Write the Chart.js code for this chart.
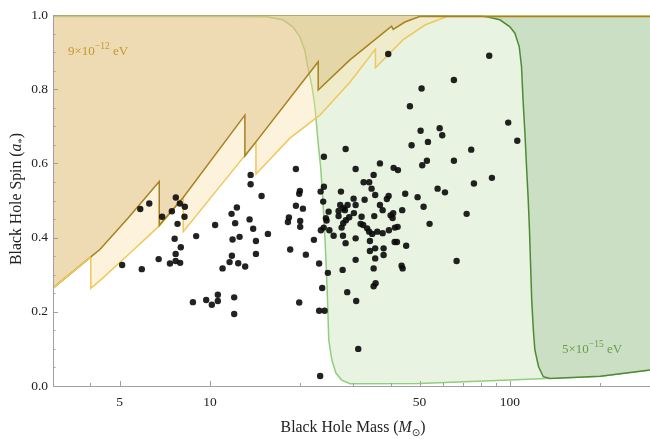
<!DOCTYPE html>
<html><head><meta charset="utf-8">
<script src="https://cdn.jsdelivr.net/npm/chart.js@4.4.0/dist/chart.umd.min.js"></script>
<style>html,body{margin:0;padding:0;background:#fff;}#wrap{width:650px;height:439px;}</style>
</head><body><div id="wrap"><canvas id="c" width="650" height="439"></canvas></div>
<script>
// ---- axis ticks ----
const massTicks = [4, 5, 10, 20, 30, 40, 50, 60, 70, 80, 90, 100, 200];
const massLabels = [5, 10, 50, 100];
const spinLabels = [0, 0.2, 0.4, 0.6, 0.8, 1.0];

// ---- black hole measurements ----
const bhMass = [5.10,5.93,5.86,6.28,6.93,7.70,7.47,7.94,8.25,8.23,7.80,7.63,8.00,7.69,6.75,7.36,7.69,7.96,9.00,10.41,
12.30,11.81,12.14,12.56,11.90,11.84,11.63,12.43,11.02,8.78,9.72,10.15,10.63,10.63,12.05,12.05,19.35,13.67,13.67,14.87,
19.95,19.85,23.39,23.99,23.99,23.86,24.87,24.36,24.49,25.02,23.44,23.95,19.35,20.42,18.34,18.20,20.0,20.0,13.56,13.94,
15.61,14.24,14.24,13.11,18.52,20.89,22.22,23.13,24.73,23.68,19.85,23.13,24.12,28.69,30.74,31.22,23.31,28.34,47.02,36.88,
30.60,40.96,42.34,35.14,32.54,33.96,27.34,34.59,35.56,44.77,49.23,39.42,38.90,30.13,32.79,27.19,28.77,30.60,36.88,27.91,
28.18,26.85,30.20,37.65,43.75,40.83,40.02,26.85,29.13,32.04,35.30,40.64,28.40,27.83,27.48,31.79,32.43,33.44,33.96,34.75,
36.12,37.65,39.51,41.37,42.24,25.85,27.77,28.34,30.60,34.15,41.28,42.01,45.11,35.56,37.93,34.15,37.93,35.56,30.60,43.55,
43.89,35.14,27.70,35.67,35.14,71.73,51.55,53.98,66.42,85.31,65.06,50.77,46.42,98.7,50.39,58.32,59.49,53.30,105.8,74.30,
52.89,51.02,65.06,87.10,75.86,57.41,60.74,39.30];
const bhSpin = [0.326,0.315,0.477,0.492,0.456,0.508,0.471,0.492,0.483,0.456,0.437,0.397,0.374,0.356,0.342,0.330,0.337,0.332,0.404,0.434,
0.481,0.464,0.439,0.402,0.395,0.351,0.334,0.331,0.317,0.226,0.232,0.219,0.246,0.229,0.239,0.194,0.585,0.569,0.544,0.512,
0.526,0.518,0.524,0.618,0.537,0.497,0.470,0.452,0.446,0.420,0.420,0.427,0.486,0.478,0.454,0.442,0.445,0.429,0.449,0.424,
0.410,0.391,0.356,0.322,0.368,0.354,0.394,0.330,0.305,0.264,0.225,0.203,0.203,0.253,0.229,0.100,0.027,0.639,0.649,0.600,
0.585,0.588,0.582,0.569,0.549,0.549,0.524,0.532,0.515,0.518,0.509,0.512,0.504,0.505,0.502,0.488,0.488,0.488,0.488,0.479,
0.474,0.472,0.466,0.474,0.474,0.466,0.460,0.458,0.455,0.456,0.458,0.453,0.447,0.439,0.427,0.437,0.434,0.425,0.416,0.410,
0.416,0.412,0.420,0.427,0.429,0.405,0.405,0.385,0.398,0.391,0.388,0.388,0.378,0.371,0.371,0.364,0.353,0.344,0.340,0.324,
0.317,0.317,0.313,0.277,0.269,0.464,0.483,0.437,0.337,0.890,0.825,0.802,0.754,0.710,0.688,0.695,0.676,0.658,0.661,0.637,
0.607,0.595,0.607,0.561,0.546,0.532,0.522,0.895];

// ---- exclusion boundaries, 9e-12 eV (two criteria) ----
const goldLightMass = [3.0,4.01,4.01,4.30,5.41,6.81,8.15,8.15,10.80,14.24,14.24,18.48,23.26,29.29,35.63,35.63,43.99,52.09,61.66,293];
const goldLightSpin = [0.264,0.348,0.263,0.284,0.358,0.433,0.508,0.416,0.538,0.658,0.571,0.668,0.730,0.819,0.908,0.858,0.933,0.973,0.996,0.996];
const goldDarkMass = [3.0,4.01,4.30,5.34,6.78,6.78,8.15,13.08,13.08,14.24,22.96,22.96,29.29,40.34,40.83,44.67,50.0,293];
const goldDarkSpin = [0.264,0.348,0.368,0.453,0.551,0.433,0.508,0.730,0.620,0.658,0.874,0.798,0.879,0.970,0.961,0.981,0.996,0.996];

// ---- exclusion boundaries, 5e-15 eV (two criteria) ----
const greenLightMass = [3.0,11.7,15.5,17.5,18.9,19.95,20.7,21.2,21.9,22.4,22.9,23.4,23.8,24.2,24.6,24.9,25.5,26.3,27.5,29.3,50,100,200,293];
const greenLightSpin = [0.996,0.996,0.995,0.987,0.968,0.941,0.906,0.860,0.806,0.752,0.663,0.590,0.501,0.394,0.259,0.124,0.070,0.035,0.016,0.006,0.007,0.016,0.026,0.043];
const greenDarkMass = [3.0,78,83.6,92.6,100,103.9,107.4,109.3,110.6,112.2,113.6,115.1,116.2,118.2,119.7,121.1,124.6,129.2,136,200,293];
const greenDarkSpin = [0.999,0.999,0.995,0.987,0.968,0.951,0.915,0.861,0.771,0.682,0.591,0.501,0.420,0.232,0.151,0.097,0.052,0.025,0.020,0.026,0.043];

const pts = (xs, ys) => xs.map((x, i) => ({x: x, y: ys[i]}));
const serif = '"Liberation Serif","DejaVu Serif",serif';
const goldLightColor = '#F0C75C', goldDarkColor = '#A8821E';

function drawRich(ctx, parts, x, y) {
  let cx = x;
  for (const p of parts) {
    ctx.font = p.font; ctx.fillStyle = p.color;
    ctx.fillText(p.t, cx, y + (p.dy || 0));
    cx += ctx.measureText(p.t).width;
  }
}
function richWidth(ctx, parts) {
  let w = 0;
  for (const p of parts) { ctx.font = p.font; w += ctx.measureText(p.t).width; }
  return w;
}

const decor = {
  id: 'decor',
  afterDatasetsDraw(chart) {
    const ctx = chart.ctx, a = chart.chartArea, xs = chart.scales.x, ys = chart.scales.y;
    ctx.save();
    ctx.strokeStyle = '#a0a0a0'; ctx.lineWidth = 1;
    ctx.beginPath();
    ctx.moveTo(a.left + 0.5, a.top); ctx.lineTo(a.left + 0.5, a.bottom + 0.5); ctx.lineTo(a.right, a.bottom + 0.5);
    ctx.stroke();
    ctx.beginPath();
    for (const v of massTicks) {
      const px = Math.round(xs.getPixelForValue(v)) + 0.5;
      const len = massLabels.includes(v) ? 5 : 3;
      ctx.moveTo(px, a.bottom); ctx.lineTo(px, a.bottom - len);
    }
    for (let i = 0; i <= 20; i++) {
      const py = Math.round(ys.getPixelForValue(i * 0.05)) + 0.5;
      const len = i % 4 === 0 ? 5 : 2.5;
      ctx.moveTo(a.left, py); ctx.lineTo(a.left + len, py);
    }
    ctx.stroke();
    // region labels
    ctx.textBaseline = 'alphabetic'; ctx.textAlign = 'left';
    const gold = '#C4982E', green = '#66A04A';
    drawRich(ctx, [
      {t: '9\u00d710', font: '13px ' + serif, color: gold},
      {t: '\u221212', font: '9.5px ' + serif, color: gold, dy: -6},
      {t: ' eV', font: '13px ' + serif, color: gold}], a.left + 15, 55);
    drawRich(ctx, [
      {t: '5\u00d710', font: '13px ' + serif, color: green},
      {t: '\u221215', font: '9.5px ' + serif, color: green, dy: -6},
      {t: ' eV', font: '13px ' + serif, color: green}], 562, 353);
    // axis titles
    const tc = '#222';
    const xt = [
      {t: 'Black Hole Mass (', font: '15.8px ' + serif, color: tc},
      {t: 'M', font: 'italic 15.8px ' + serif, color: tc},
      {t: '\u2299', font: '10px "DejaVu Sans",sans-serif', color: tc, dy: 4},
      {t: ')', font: '15.8px ' + serif, color: tc}];
    const xw = richWidth(ctx, xt);
    drawRich(ctx, xt, 353 - xw / 2, 432);
    const yt = [
      {t: 'Black Hole Spin (', font: '15.8px ' + serif, color: tc},
      {t: 'a', font: 'italic 15.8px ' + serif, color: tc},
      {t: '*', font: '10.5px ' + serif, color: tc, dy: 4},
      {t: ')', font: '15.8px ' + serif, color: tc}];
    const yw = richWidth(ctx, yt);
    ctx.translate(21, 199); ctx.rotate(-Math.PI / 2);
    drawRich(ctx, yt, -yw / 2, 0);
    ctx.restore();
  }
};

new Chart(document.getElementById('c'), {
  type: 'scatter',
  data: {
    datasets: [
      {type: 'scatter', data: pts(bhMass, bhSpin), pointRadius: 3.2, pointBackgroundColor: 'rgba(10,10,10,0.9)', pointBorderWidth: 0, order: 1},
      {type: 'line', data: pts(goldLightMass.slice(0, 2), goldLightSpin.slice(0, 2)), borderColor: goldLightColor, borderWidth: 1.5, fill: false, pointRadius: 0, tension: 0, order: 1.5},
      {type: 'line', data: pts(goldDarkMass, goldDarkSpin), borderColor: goldDarkColor, borderWidth: 1.5,
        backgroundColor: 'rgba(212,175,105,0.36)', fill: 'end', pointRadius: 0, tension: 0, order: 2},
      {type: 'line', data: pts(goldLightMass, goldLightSpin), borderColor: goldLightColor, borderWidth: 1.5, backgroundColor: 'rgba(250,225,170,0.4)', fill: 'end', pointRadius: 0, tension: 0, order: 3},
      {type: 'line', data: pts(greenDarkMass, greenDarkSpin), borderColor: '#4E8A34', borderWidth: 1.5, backgroundColor: '#CBDFC5', fill: 'end', pointRadius: 0, tension: 0, order: 4},
      {type: 'line', data: pts(greenLightMass, greenLightSpin), borderColor: '#90CF7C', borderWidth: 1.5, backgroundColor: '#E8F3E1', fill: 'end', pointRadius: 0, tension: 0, order: 5}
    ]
  },
  options: {
    responsive: false, animation: false,
    layout: {autoPadding: false, padding: {top: 15, left: 0, right: 0, bottom: 0}},
    plugins: {legend: {display: false}, tooltip: {enabled: false}},
    scales: {
      x: {
        type: 'logarithmic', min: 3, max: 293,
        grid: {display: false, drawTicks: false, tickLength: 0}, border: {display: false},
        afterBuildTicks: s => { s.ticks = massLabels.map(v => ({value: v})); },
        afterFit: s => { s.height = 53; },
        ticks: {autoSkip: false, maxRotation: 0, padding: 8, color: '#222', font: {family: serif, size: 13.5}, callback: v => String(v)}
      },
      y: {
        min: 0, max: 1,
        grid: {display: false, drawTicks: false, tickLength: 0}, border: {display: false},
        afterBuildTicks: s => { s.ticks = spinLabels.map(v => ({value: v})); },
        afterFit: s => { s.width = 53; },
        ticks: {padding: 5, color: '#222', font: {family: serif, size: 13.5}, callback: v => Number(v).toFixed(1)}
      }
    }
  },
  plugins: [decor]
});
</script></body></html>
